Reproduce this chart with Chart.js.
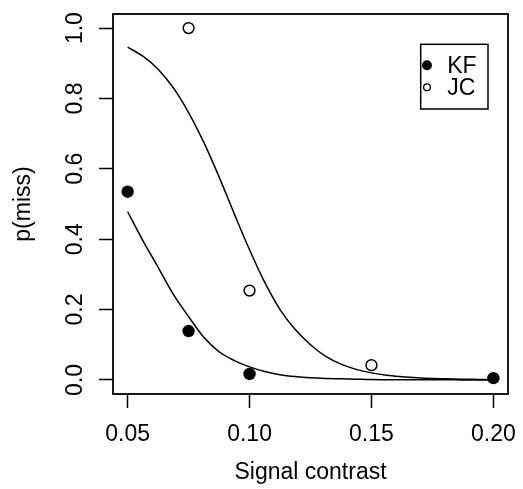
<!DOCTYPE html>
<html>
<head>
<meta charset="utf-8">
<script src="https://cdn.jsdelivr.net/npm/chart.js@4.4.1/dist/chart.umd.min.js"></script>
<style>
  html, body { margin: 0; padding: 0; background: #fff; }
  canvas { display: block; }
</style>
</head>
<body>
<canvas id="myChart" width="523" height="489"></canvas>
<script>
// observed miss rates per subject
var kfContrast = [0.05, 0.075, 0.10, 0.20];
var kfMiss = [0.535, 0.139, 0.017, 0.005];
var jcContrast = [0.075, 0.10, 0.15];
var jcMiss = [1.0, 0.254, 0.042];

// fitted curves, read every 0.00625 of contrast
var fitContrast = [0.05, 0.05625, 0.0625, 0.06875, 0.075, 0.08125, 0.0875, 0.09375,
                   0.10, 0.10625, 0.1125, 0.11875, 0.125, 0.13125, 0.1375, 0.14375,
                   0.15, 0.15625, 0.1625, 0.16875, 0.175, 0.18125, 0.1875, 0.19375, 0.20];
var kfFit = [0.478, 0.396, 0.32, 0.243, 0.18, 0.121, 0.08, 0.055,
             0.037, 0.024, 0.015, 0.0095, 0.006, 0.004, 0.003, 0.002,
             0.001, 0.0008, 0.0005, 0.0003, 0.0002, 0.0002, 0.0001, 0.0001, 0];
var jcFit = [0.946, 0.92, 0.883, 0.83, 0.76, 0.675, 0.577, 0.472,
             0.37, 0.277, 0.2, 0.143, 0.1, 0.067, 0.045, 0.03,
             0.02, 0.013, 0.009, 0.006, 0.004, 0.003, 0.002, 0.0015, 0.001];

var xTicks = [0.05, 0.10, 0.15, 0.20];
var xTickLabels = ['0.05', '0.10', '0.15', '0.20'];
var yTicks = [0.0, 0.2, 0.4, 0.6, 0.8, 1.0];
var yTickLabels = ['0.0', '0.2', '0.4', '0.6', '0.8', '1.0'];

var FONT = '"Liberation Sans", Arial, Helvetica, sans-serif';
var FSIZE = 23;
Chart.defaults.font.family = FONT;
Chart.defaults.color = '#000';

function pairs(xs, ys) {
    var out = [];
    for (var i = 0; i < xs.length; i++) {
        out.push({x: xs[i], y: ys[i]});
    }
    return out;
}

// full frame round the plot region
var boxPlugin = {
    id: 'plotBox',
    afterDatasetsDraw: function(chart) {
        var a = chart.chartArea;
        var c = chart.ctx;
        c.save();
        c.strokeStyle = '#000';
        c.lineWidth = 1.8;
        c.strokeRect(a.left, a.top, a.right - a.left, a.bottom - a.top);
        c.restore();
    }
};

// boxed legend in the top right corner, built from the point datasets
var legendPlugin = {
    id: 'boxLegend',
    afterDraw: function(chart) {
        var a = chart.chartArea;
        var c = chart.ctx;
        var left = a.right - 87.3;
        var top = a.top + 30.3;
        var w = 67.3, h = 64.7;
        c.save();
        c.strokeStyle = '#000';
        c.lineWidth = 1.5;
        c.strokeRect(left, top, w, h);
        c.font = FSIZE + 'px ' + FONT;
        c.textBaseline = 'middle';
        c.fillStyle = '#000';
        var rows = chart.data.datasets.filter(function(d) { return d.inLegend; });
        for (var i = 0; i < rows.length; i++) {
            var d = rows[i];
            var y = top + 21 + i * 22;
            c.beginPath();
            c.arc(left + 6.3, y, d.inLegend, 0, Math.PI * 2);
            c.fillStyle = d.pointBackgroundColor;
            c.fill();
            c.lineWidth = 1.3;
            c.strokeStyle = '#000';
            c.stroke();
            c.fillStyle = '#000';
            c.fillText(d.label, left + 26.5, y + 1);
        }
        c.restore();
    }
};

var ctx = document.getElementById('myChart').getContext('2d');
var myChart = new Chart(ctx, {
    type: 'scatter',
    data: {
        datasets: [
            {
                label: 'KF',
                data: pairs(kfContrast, kfMiss),
                pointRadius: 6.2,
                pointBackgroundColor: '#000',
                pointBorderColor: '#000',
                pointBorderWidth: 0,
                inLegend: 4.3
            },
            {
                label: 'JC',
                data: pairs(jcContrast, jcMiss),
                pointRadius: 5.4,
                pointBackgroundColor: '#fff',
                pointBorderColor: '#000',
                pointBorderWidth: 1.5,
                inLegend: 3.4
            },
            {
                type: 'line',
                label: 'KF fit',
                data: pairs(fitContrast, kfFit),
                borderColor: '#000',
                borderWidth: 1.5,
                pointRadius: 0,
                fill: false,
                cubicInterpolationMode: 'monotone'
            },
            {
                type: 'line',
                label: 'JC fit',
                data: pairs(fitContrast, jcFit),
                borderColor: '#000',
                borderWidth: 1.5,
                pointRadius: 0,
                fill: false,
                cubicInterpolationMode: 'monotone'
            }
        ]
    },
    options: {
        responsive: false,
        animation: false,
        devicePixelRatio: 1,
        layout: {padding: {top: 14, right: 15, left: 0, bottom: 0}},
        plugins: {
            legend: {display: false},
            tooltip: {enabled: false}
        },
        scales: {
            x: {
                type: 'linear',
                min: 0.044,
                max: 0.206,
                afterBuildTicks: function(s) {
                    s.ticks = xTicks.map(function(v) { return {value: v}; });
                },
                afterFit: function(s) {
                    s.height = 95;
                    s.paddingLeft = 0;
                    s.paddingRight = 0;
                },
                ticks: {
                    autoSkip: false,
                    maxRotation: 0,
                    padding: 13,
                    font: {size: FSIZE},
                    color: '#000',
                    callback: function(v, i) { return xTickLabels[i]; }
                },
                grid: {
                    drawOnChartArea: false,
                    tickLength: 14,
                    tickWidth: 1.5,
                    tickColor: '#000'
                },
                border: {display: false},
                title: {
                    display: true,
                    text: 'Signal contrast',
                    font: {size: FSIZE},
                    color: '#000',
                    padding: {top: 0, bottom: 3}
                }
            },
            y: {
                type: 'linear',
                min: -0.04,
                max: 1.04,
                afterBuildTicks: function(s) {
                    s.ticks = yTicks.map(function(v) { return {value: v}; });
                },
                afterFit: function(s) {
                    s.width = 113;
                    s.paddingTop = 0;
                    s.paddingBottom = 0;
                },
                ticks: {
                    autoSkip: false,
                    minRotation: 90,
                    maxRotation: 90,
                    crossAlign: 'center',
                    padding: 7,
                    font: {size: FSIZE},
                    color: '#000',
                    callback: function(v, i) { return yTickLabels[i]; }
                },
                grid: {
                    drawOnChartArea: false,
                    tickLength: 14,
                    tickWidth: 1.5,
                    tickColor: '#000'
                },
                border: {display: false},
                title: {
                    display: true,
                    text: 'p(miss)',
                    font: {size: FSIZE},
                    color: '#000',
                    padding: {top: 10, bottom: 0}
                }
            }
        }
    },
    plugins: [boxPlugin, legendPlugin]
});
</script>
</body>
</html>
